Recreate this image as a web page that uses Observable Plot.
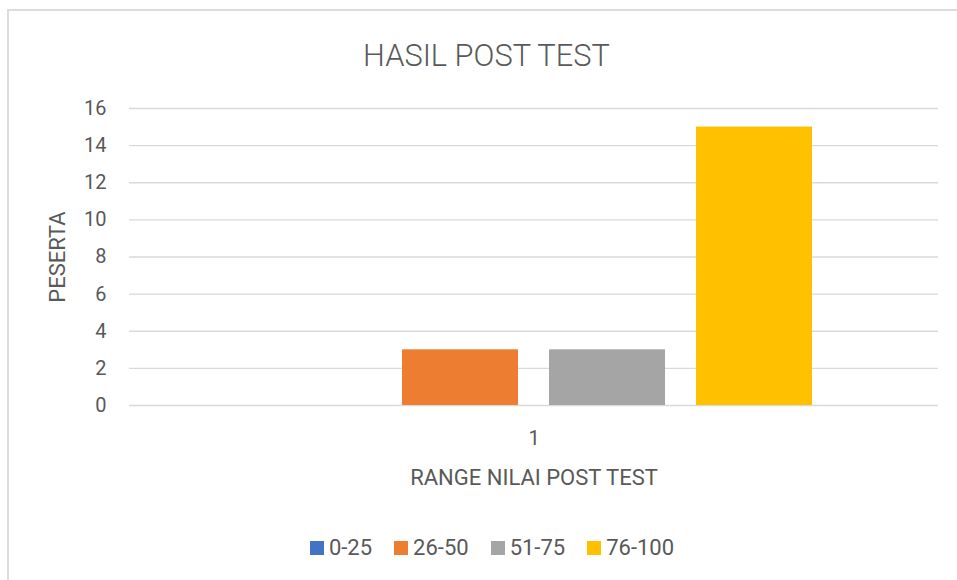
<!DOCTYPE html>
<html>
<head>
<meta charset="utf-8">
<script src="https://cdn.jsdelivr.net/npm/d3@7"></script>
<script src="https://cdn.jsdelivr.net/npm/@observablehq/plot@0.6"></script>
<style>
  html, body { margin: 0; padding: 0; background: #fff; }
  body { width: 957px; height: 580px; position: relative; overflow: hidden;
         font-family: Roboto, "Liberation Sans", sans-serif; color: #595959; }
  #frame { position: absolute; left: 7px; top: 9px; right: -20px; bottom: -20px;
           border-left: 2px solid #dcdcdc; border-top: 2px solid #dcdcdc; pointer-events: none; }
  #title { height: 90px; box-sizing: border-box; padding-top: 38px; padding-left: 16px;
           text-align: center; font-size: 30.8px; line-height: 36px; font-weight: 300; white-space: nowrap; }
  #chart svg { display: block; }
  #chart g[aria-label="y-axis label"] text,
  #chart g[aria-label="fx-axis label"] text { font-size: 22px; }
  #legend { height: 90px; display: flex; justify-content: center; align-items: center;
            padding-left: 27px; padding-top: 6px; box-sizing: border-box; font-size: 22px; line-height: 1; }
  .item { display: flex; align-items: center; margin-right: 22px; }
  .item:last-child { margin-right: 0; }
  .sw { width: 14px; height: 14px; margin-right: 5px; }
</style>
</head>
<body>
<div id="frame"></div>
<div id="title"></div>
<div id="chart"></div>
<div id="legend"></div>
<script>
const categories = ["1"];
const series = ["0-25", "26-50", "51-75", "76-100"];
const values = [0, 3, 3, 15];
const yTicks = [0, 2, 4, 6, 8, 10, 12, 14, 16];
const palette = ["#4472C4", "#ED7D31", "#A5A5A5", "#FFC000"];
const titleText = "HASIL POST TEST";
const yLabel = "PESERTA";
const xLabel = "RANGE NILAI POST TEST";

const data = series.map((s, i) => ({cat: categories[0], range: s, value: values[i]}));

document.getElementById("title").textContent = titleText;

const plot = Plot.plot({
  width: 957,
  height: 410,
  marginLeft: 129,
  marginRight: 19,
  marginTop: 18,
  marginBottom: 95,
  style: {fontFamily: "Roboto, 'Liberation Sans', sans-serif", fontSize: "20px", color: "#595959", background: "transparent", overflow: "visible"},
  fx: {domain: categories, padding: 0, round: false},
  x: {domain: series, paddingInner: 0.211, paddingOuter: 0.857, round: false, axis: null},
  y: {domain: [0, 16]},
  color: {domain: series, range: palette},
  marks: [
    Plot.gridY(yTicks, {stroke: "#d9d9d9", strokeOpacity: 1, strokeWidth: 1.3}),
    Plot.axisY(yTicks, {tickSize: 0, tickPadding: 23, label: yLabel, labelAnchor: "center", labelOffset: 80, labelArrow: "none"}),
    Plot.axisFx({anchor: "bottom", tickSize: 0, tickPadding: 25, label: xLabel, labelAnchor: "center", labelOffset: 79, labelArrow: "none"}),
    Plot.barY(data, {fx: "cat", x: "range", y: "value", fill: "range"})
  ]
});
document.getElementById("chart").appendChild(plot);

const legend = document.getElementById("legend");
series.forEach((s, i) => {
  const item = document.createElement("div");
  item.className = "item";
  const sw = document.createElement("div");
  sw.className = "sw";
  sw.style.background = palette[i];
  const t = document.createElement("span");
  t.textContent = s;
  item.appendChild(sw);
  item.appendChild(t);
  legend.appendChild(item);
});
</script>
</body>
</html>
